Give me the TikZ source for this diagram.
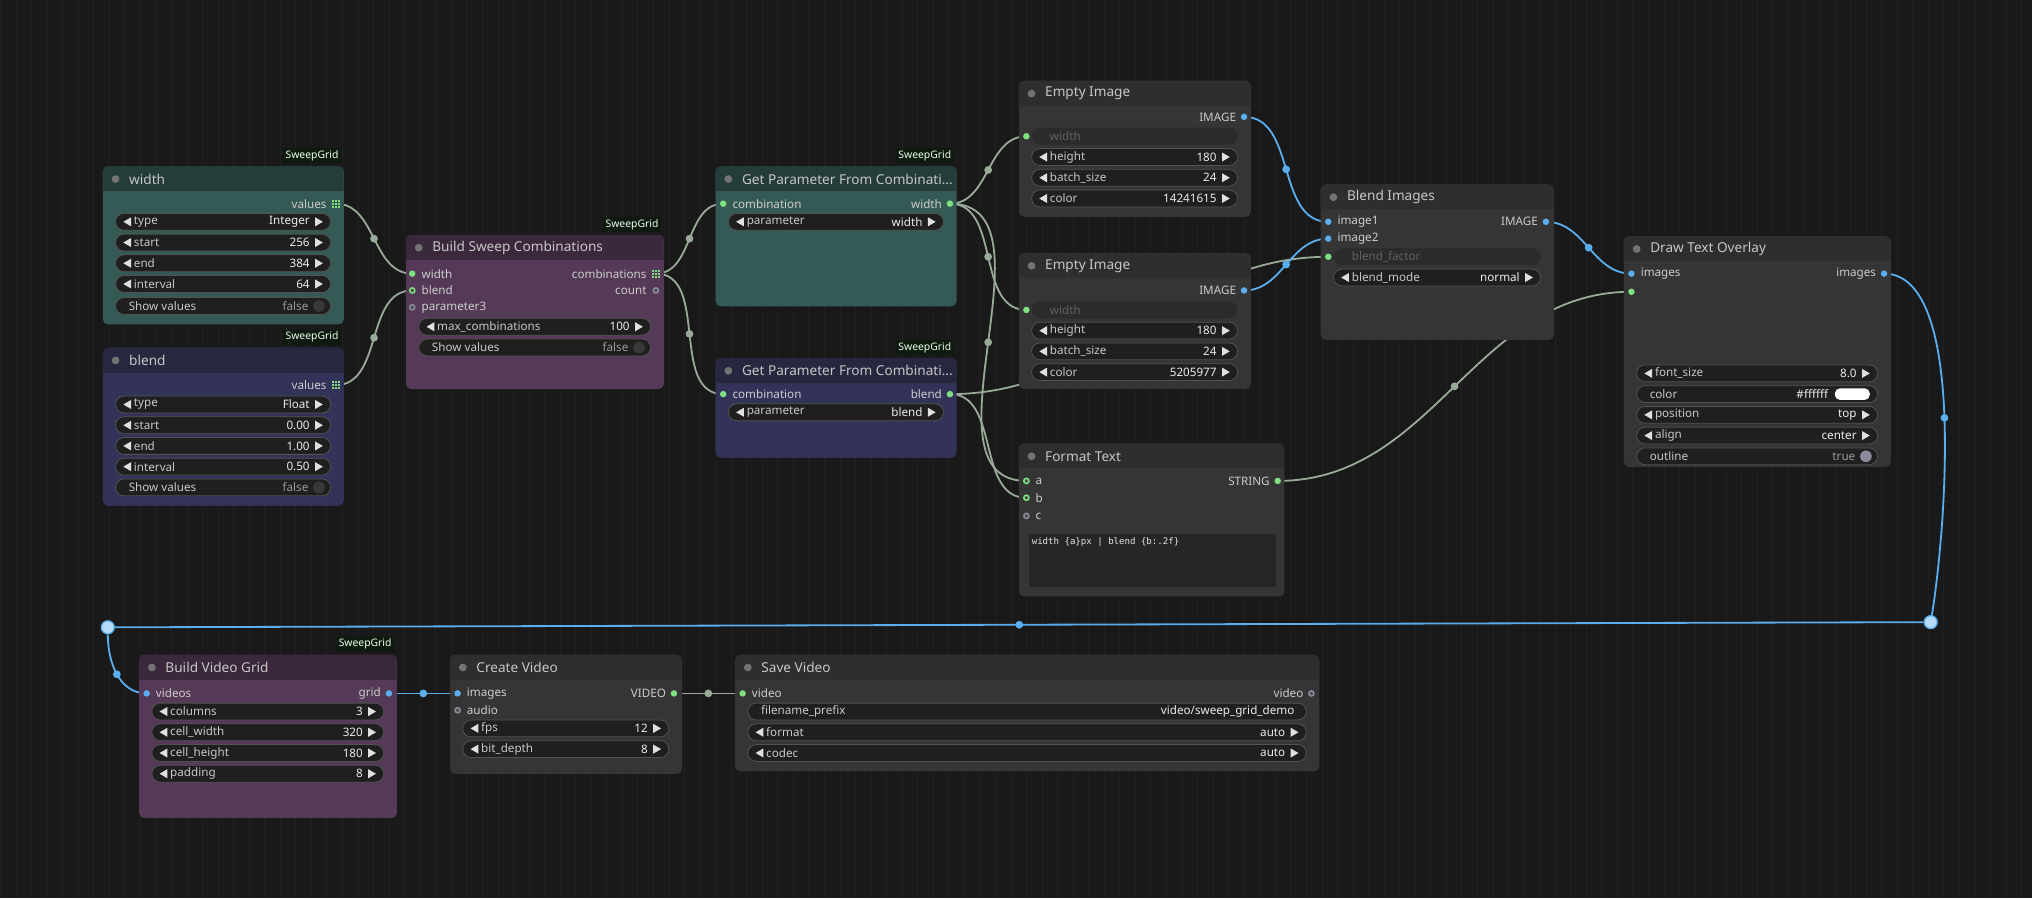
\documentclass[tikz,border=0pt]{standalone}
\usepackage{fontspec}
\setmainfont{Noto Sans}
\setmonofont{DejaVu Sans Mono}
\usetikzlibrary{positioning}

\definecolor{bgc}{HTML}{191919}
\definecolor{gridc}{HTML}{202020}
\definecolor{teal}{HTML}{355A56}
\definecolor{tealhead}{HTML}{243C3A}
\definecolor{navy}{HTML}{33335A}
\definecolor{navyhead}{HTML}{272740}
\definecolor{plum}{HTML}{553A57}
\definecolor{plumhead}{HTML}{3B283C}
\definecolor{grayb}{HTML}{353535}
\definecolor{grayhead}{HTML}{2E2E2E}
\definecolor{linkc}{HTML}{9AAA98}
\definecolor{bluec}{HTML}{5AAEEE}
\definecolor{greenc}{HTML}{7EE07E}
\definecolor{xc}{HTML}{8A8A9A}
\definecolor{badgec}{HTML}{0E1A10}

\pgfdeclarelayer{back}
\pgfdeclarelayer{links}
\pgfsetlayers{back,links,main}

\tikzset{
  % panels and headers
  panel/.style={anchor=north west, rounded corners=4pt, inner sep=0pt, draw=none},
  title/.style={anchor=west, text=white!78!black, font=\fontsize{10.5}{11}\selectfont},
  titledot/.style={fill=white!45!black},
  badge/.style={anchor=south east, fill=badgec, text=white!92!green,
    font=\fontsize{8}{8}\selectfont, inner sep=1.8pt},
  % widgets
  wbox/.style={fill=black!88, draw=white!32!black, line width=0.6pt, rounded corners=6.5pt},
  wdis/.style={fill=white!17!black, rounded corners=6.5pt},
  warrow/.style={fill=white!88!black},
  wlabel/.style={anchor=west, text=white!78!black, font=\fontsize{9}{9}\selectfont, inner sep=0pt},
  wvalue/.style={anchor=east, text=white!92!black, font=\fontsize{9}{9}\selectfont, inner sep=0pt},
  plbl/.style={text=white!80!black, font=\fontsize{9}{9}\selectfont, inner sep=0pt},
  % ports
  gport/.style={circle, fill=greenc, inner sep=0pt, minimum size=5pt},
  gring/.style={circle, draw=greenc, fill=black!70, line width=1.2pt, inner sep=0pt, minimum size=4pt},
  bport/.style={circle, fill=bluec, inner sep=0pt, minimum size=5pt},
  xring/.style={circle, draw=xc, fill=black!70, line width=1.2pt, inner sep=0pt, minimum size=4pt},
  reroute/.style={circle, fill=bluec!45!white, draw=bluec, line width=1pt, inner sep=0pt, minimum size=10pt},
  % connectors
  link/.style={draw=linkc, line width=1.4pt},
  blink/.style={draw=bluec, line width=1.4pt},
  ldot/.style={circle, fill=linkc, inner sep=0pt, minimum size=6pt},
  bdot/.style={circle, fill=bluec, inner sep=0pt, minimum size=6pt}
}

% panel: name, x, y, w, h, title, body, head
\newcommand\cnode[8]{%
  \node[panel, fill=#7, minimum width=#4pt, minimum height=#5pt] (#1) at (#2,#3) {};
  \begin{scope}
    \clip (#2,#3) rectangle ++(#4,19);
    \fill[#8, rounded corners=4pt] (#2,#3) rectangle ++(#4,#5);
  \end{scope}
  \fill[titledot] (#2+10,#3+10) circle (3pt);
  \node[title] (#1-t) at (#2+17,#3+10) {#6};}
% widget: x, y, w, label, value
\newcommand\wdg[5]{%
  \draw[wbox] (#1,#2-6.5) rectangle ++(#3,13);
  \fill[warrow] (#1+6,#2) -- ++(6,-3.5) -- ++(0,7) -- cycle;
  \fill[warrow] (#1+#3-6,#2) -- ++(-6,-3.5) -- ++(0,7) -- cycle;
  \node[wlabel] at (#1+14,#2) {#4};
  \node[wvalue] at (#1+#3-16,#2) {#5};}
\newcommand\wtog[6]{%
  \draw[wbox] (#1,#2-6.5) rectangle ++(#3,13);
  \node[wlabel] at (#1+10,#2) {#4};
  \node[wvalue, text=white!60!black] at (#1+#3-17,#2) {#5};
  \fill[#6] (#1+#3-9,#2) circle (4.5pt);}
\newcommand\wdisabled[4]{%
  \fill[wdis] (#1,#2-6.5) rectangle ++(#3,13);
  \node[wlabel, text=white!38!black] at (#1+14,#2) {#4};}
\newcommand\wplain[5]{%
  \draw[wbox] (#1,#2-6.5) rectangle ++(#3,13);
  \node[wlabel] at (#1+10,#2) {#4};
  \node[wvalue] at (#1+#3-9,#2) {#5};}
\newcommand\wcolor[5]{%
  \draw[wbox] (#1,#2-6.5) rectangle ++(#3,13);
  \node[wlabel] at (#1+10,#2) {#4};
  \node[wvalue] at (#1+#3-38,#2) {#5};
  \fill[white, rounded corners=4pt] (#1+#3-33,#2-4.5) rectangle (#1+#3-6,#2+4.5);}
% list output icon
\newcommand\gicon[2]{%
  \foreach \i in {0,1,2}{\foreach \j in {0,1,2}{
    \fill[greenc] (#1-3+\i*2.3,#2-3+\j*2.3) rectangle ++(1.5,1.5);}}}

\begin{document}
\begin{tikzpicture}[x=1pt, y=-1pt]

\begin{pgfonlayer}{back}
  \fill[bgc] (0,0) rectangle (1568,693);
  \draw[gridc, step=12] (0,0) grid (1568,693);
\end{pgfonlayer}
\useasboundingbox (0,0) rectangle (1568,693);

% --- sweep parameters ---
\cnode{width}{79}{128}{186}{122}{width}{teal}{tealhead}
\node[badge] (width-b) at (263,126) {SweepGrid};
\node[plbl, anchor=east] at (252,157) {values};
\gicon{259}{157}
\coordinate (width-out) at (259,157);
\wdg{89}{171}{166}{type}{Integer}
\wdg{89}{187}{166}{start}{256}
\wdg{89}{203}{166}{end}{384}
\wdg{89}{219}{166}{interval}{64}
\wtog{89}{236}{166}{Show values}{false}{white!22!black}

\cnode{blend}{79}{268}{186}{122}{blend}{navy}{navyhead}
\node[badge] (blend-b) at (263,266) {SweepGrid};
\node[plbl, anchor=east] at (252,297) {values};
\gicon{259}{297}
\coordinate (blend-out) at (259,297);
\wdg{89}{312}{166}{type}{Float}
\wdg{89}{328}{166}{start}{0.00}
\wdg{89}{344}{166}{end}{1.00}
\wdg{89}{360}{166}{interval}{0.50}
\wtog{89}{376}{166}{Show values}{false}{white!22!black}

% --- combinations ---
\cnode{bsc}{313}{181}{199}{119}{Build Sweep Combinations}{plum}{plumhead}
\node[badge] (bsc-b) at (510,179) {SweepGrid};
\node[gport] (bsc-w) at (318,211) {};
\node[gring] (bsc-bl) at (318,224) {};
\node[xring] (bsc-p3) at (318,237) {};
\node[plbl, anchor=west] at (325,211) {width};
\node[plbl, anchor=west] at (325,224) {blend};
\node[plbl, anchor=west] at (325,237) {parameter3};
\gicon{506}{211}
\coordinate (bsc-out) at (506,211);
\node[plbl, anchor=east] at (499,211) {combinations};
\node[xring] (bsc-cnt) at (506,224) {};
\node[plbl, anchor=east] at (499,224) {count};
\wdg{323}{252}{179}{max\_combinations}{100}
\wtog{323}{268}{179}{Show values}{false}{white!22!black}

\cnode{gpa}{552}{128}{186}{108}{Get Parameter From Combinati...}{teal}{tealhead}
\node[badge] (gpa-b) at (736,126) {SweepGrid};
\node[gport] (gpa-in) at (558,157) {};
\node[plbl, anchor=west] at (565,157) {combination};
\node[gport] (gpa-out) at (733,157) {};
\node[plbl, anchor=east] at (727,157) {width};
\wdg{562}{171}{166}{parameter}{width}

\cnode{gpb}{552}{276}{186}{77}{Get Parameter From Combinati...}{navy}{navyhead}
\node[badge] (gpb-b) at (736,274) {SweepGrid};
\node[gport] (gpb-in) at (558,304) {};
\node[plbl, anchor=west] at (565,304) {combination};
\node[gport] (gpb-out) at (733,304) {};
\node[plbl, anchor=east] at (727,304) {blend};
\wdg{562}{318}{166}{parameter}{blend}

% --- images ---
\cnode{eia}{786}{62}{179}{105}{Empty Image}{grayb}{grayhead}
\node[bport] (eia-out) at (960,90) {};
\node[plbl, anchor=east] at (954,90) {IMAGE};
\node[gport] (eia-w) at (792,105) {};
\wdisabled{796}{105}{159}{width}
\wdg{796}{121}{159}{height}{180}
\wdg{796}{137}{159}{batch\_size}{24}
\wdg{796}{153}{159}{color}{14241615}

\cnode{eib}{786}{195}{179}{105}{Empty Image}{grayb}{grayhead}
\node[bport] (eib-out) at (960,224) {};
\node[plbl, anchor=east] at (954,224) {IMAGE};
\node[gport] (eib-w) at (792,239) {};
\wdisabled{796}{239}{159}{width}
\wdg{796}{255}{159}{height}{180}
\wdg{796}{271}{159}{batch\_size}{24}
\wdg{796}{287}{159}{color}{5205977}

\cnode{ft}{786}{342}{205}{118}{Format Text}{grayb}{grayhead}
\node[gring] (ft-a) at (792,371) {};
\node[gring] (ft-b) at (792,384) {};
\node[xring] (ft-c) at (792,398) {};
\node[plbl, anchor=west] at (799,371) {a};
\node[plbl, anchor=west] at (799,384) {b};
\node[plbl, anchor=west] at (799,398) {c};
\node[gport] (ft-out) at (986,371) {};
\node[plbl, anchor=east] at (980,371) {STRING};
\fill[black!85] (794,412) rectangle (985,453);
\node[anchor=west, inner sep=0pt, text=white!90!black, font=\ttfamily\fontsize{7}{7}\selectfont] (ft-txt) at (796,418) {width \{a\}px | blend \{b:.2f\}};

\cnode{bi}{1019}{142}{180}{120}{Blend Images}{grayb}{grayhead}
\node[bport] (bi-1) at (1025,171) {};
\node[bport] (bi-2) at (1025,184) {};
\node[gport] (bi-f) at (1025,198) {};
\node[plbl, anchor=west] at (1032,171) {image1};
\node[plbl, anchor=west] at (1032,184) {image2};
\wdisabled{1029}{198}{160}{blend\_factor}
\wdg{1029}{214}{160}{blend\_mode}{normal}
\node[bport] (bi-out) at (1193,171) {};
\node[plbl, anchor=east] at (1187,171) {IMAGE};

\cnode{dto}{1253}{182}{206}{178}{Draw Text Overlay}{grayb}{grayhead}
\node[bport] (dto-img) at (1259,211) {};
\node[plbl, anchor=west] at (1266,211) {images};
\node[gport] (dto-txt) at (1259,225) {};
\node[bport] (dto-out) at (1454,211) {};
\node[plbl, anchor=east] at (1448,211) {images};
\wdg{1263}{288}{186}{font\_size}{8.0}
\wcolor{1263}{304}{186}{color}{\#ffffff}
\wdg{1263}{320}{186}{position}{top}
\wdg{1263}{336}{186}{align}{center}
\wtog{1263}{352}{186}{outline}{true}{xc}

% --- video ---
\cnode{bvg}{107}{505}{199}{126}{Build Video Grid}{plum}{plumhead}
\node[badge] (bvg-b) at (304,503) {SweepGrid};
\node[bport] (bvg-in) at (113,535) {};
\node[plbl, anchor=west] at (120,535) {videos};
\node[bport] (bvg-out) at (300,535) {};
\node[plbl, anchor=east] at (294,535) {grid};
\wdg{117}{549}{179}{columns}{3}
\wdg{117}{565}{179}{cell\_width}{320}
\wdg{117}{581}{179}{cell\_height}{180}
\wdg{117}{597}{179}{padding}{8}

\cnode{cv}{347}{505}{179}{92}{Create Video}{grayb}{grayhead}
\node[bport] (cv-img) at (353,535) {};
\node[xring] (cv-aud) at (353,548) {};
\node[plbl, anchor=west] at (360,535) {images};
\node[plbl, anchor=west] at (360,548) {audio};
\node[gport] (cv-out) at (520,535) {};
\node[plbl, anchor=east] at (514,535) {VIDEO};
\wdg{357}{562}{159}{fps}{12}
\wdg{357}{578}{159}{bit\_depth}{8}

\cnode{sv}{567}{505}{451}{90}{Save Video}{grayb}{grayhead}
\node[gport] (sv-in) at (573,535) {};
\node[plbl, anchor=west] at (580,535) {video};
\node[xring] (sv-out) at (1012,535) {};
\node[plbl, anchor=east] at (1006,535) {video};
\wplain{577}{549}{431}{filename\_prefix}{video/sweep\_grid\_demo}
\wdg{577}{565}{431}{format}{auto}
\wdg{577}{581}{431}{codec}{auto}

% reroute points
\node[reroute] (ra) at (1490,480) {};
\node[reroute] (rb) at (83,484) {};

% --- connectors ---
\begin{pgfonlayer}{links}
\draw[link] (width-out) to[out=0,in=180] node[ldot]{} (bsc-w.center);
\draw[link] (blend-out) to[out=0,in=180] node[ldot]{} (bsc-bl.center);
\draw[link] (bsc-out) to[out=0,in=180] node[ldot]{} (gpa-in.center);
\draw[link] (bsc-out) to[out=0,in=180] node[ldot]{} (gpb-in.center);
\draw[link] (gpa-out.center) to[out=0,in=180] node[ldot]{} (eia-w.center);
\draw[link] (gpa-out.center) to[out=0,in=180] node[ldot]{} (eib-w.center);
\draw[link] (gpa-out.center) to[out=0,in=180] node[ldot]{} (ft-a.center);
\draw[link] (gpb-out.center) to[out=0,in=180] (bi-f.center);
\draw[link] (gpb-out.center) to[out=0,in=180] (ft-b.center);
\draw[link] (ft-out.center) to[out=0,in=180] node[ldot]{} (dto-txt.center);
\draw[link] (cv-out.center) to[out=0,in=180] node[ldot]{} (sv-in.center);
\draw[blink] (eia-out.center) to[out=0,in=180] node[bdot]{} (bi-1.center);
\draw[blink] (eib-out.center) to[out=0,in=180] node[bdot]{} (bi-2.center);
\draw[blink] (bi-out.center) to[out=0,in=180] node[bdot]{} (dto-img.center);
\draw[blink] (dto-out.center) .. controls (1520,211) and (1500,420) .. node[bdot]{} (ra);
\draw[blink] (ra) -- node[bdot]{} (rb);
\draw[blink] (rb) to[out=270,in=180] node[bdot]{} (bvg-in.center);
\draw[blink] (bvg-out.center) to[out=0,in=180] node[bdot]{} (cv-img.center);
\end{pgfonlayer}

\end{tikzpicture}
\end{document}
